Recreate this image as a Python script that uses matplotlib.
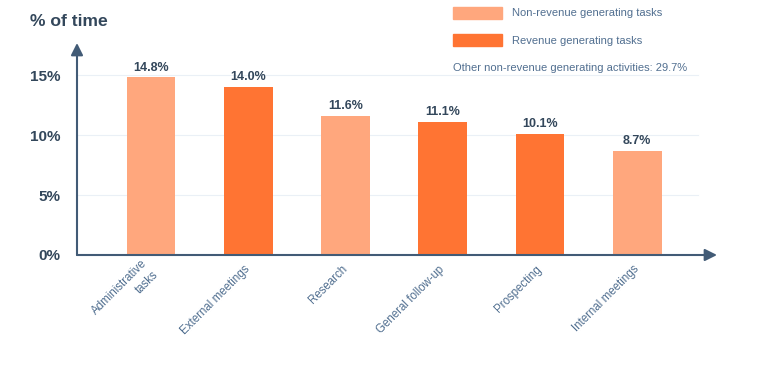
import matplotlib.pyplot as plt
from matplotlib.patches import Rectangle

plt.rcParams['font.family'] = ['Liberation Sans', 'DejaVu Sans']

categories = ["Administrative\ntasks", "External meetings", "Research",
              "General follow-up", "Prospecting", "Internal meetings"]
values = [14.8, 14.0, 11.6, 11.1, 10.1, 8.7]
revenue = [False, True, False, True, True, False]
y_ticks = [0, 5, 10, 15]
legend_labels = ["Non-revenue generating tasks", "Revenue generating tasks"]
note = "Other non-revenue generating activities: 29.7%"

light = "#FFA77D"
dark = "#FF7433"
text_col = "#33475B"
axis_col = "#425B76"
gray = "#516F90"

fig = plt.figure(figsize=(7.58, 3.76), dpi=100)
ax = fig.add_axes([77 / 758, 121 / 376, 640 / 758, 212 / 376])

x = list(range(len(categories)))
colors = [dark if r else light for r in revenue]
ax.bar(x, values, width=0.5, color=colors, zorder=2)

for xi, v in zip(x, values):
    ax.text(xi, v + 0.3, f"{v:.1f}%", ha="center", va="bottom",
            fontsize=9, fontweight="bold", color=text_col)

ax.set_xlim(-0.76, 5.82)
ax.set_ylim(0, 17.67)

for s in ax.spines.values():
    s.set_visible(False)

# faint grid lines
for t in y_ticks[1:]:
    ax.axhline(t, xmax=0.97, color="#EAF0F6", lw=0.8, zorder=1)

# axes with arrow heads
ax.annotate("", xy=(0, 1), xytext=(0, 0), xycoords="axes fraction",
            arrowprops=dict(arrowstyle="-|>", color=axis_col, lw=1.5,
                            mutation_scale=18, shrinkA=0, shrinkB=0))
ax.annotate("", xy=(1, 0), xytext=(0, 0), xycoords="axes fraction",
            arrowprops=dict(arrowstyle="-|>", color=axis_col, lw=1.5,
                            mutation_scale=18, shrinkA=0, shrinkB=0))

ax.set_yticks(y_ticks)
ax.set_yticklabels([f"{t}%" for t in y_ticks], fontsize=11,
                   fontweight="bold", color=text_col)
ax.tick_params(axis="y", length=0, pad=12)
ax.set_xticks(x)
ax.set_xticklabels(categories, rotation=45, ha="right", va="center",
                   rotation_mode="anchor", multialignment="right",
                   fontsize=8.3, color=gray, linespacing=1.4)
ax.tick_params(axis="x", length=0, pad=9)

fig.text(30 / 758, 1 - 22 / 376, "% of time", fontsize=12.6, fontweight="bold",
         color=text_col, va="center")

# legend drawn by hand
for i, (lab, c) in enumerate(zip(legend_labels, [light, dark])):
    ytop = 7 + i * 27
    fig.patches.append(Rectangle((453 / 758, 1 - (ytop + 12) / 376), 49 / 758, 12 / 376,
                                 transform=fig.transFigure, color=c))
    fig.text(512 / 758, 1 - (ytop + 6.5) / 376, lab, fontsize=8, color=gray, va="center")
fig.text(453 / 758, 1 - 68 / 376, note, fontsize=8, color=gray, va="center")

fig.savefig("out.png", dpi=100)
